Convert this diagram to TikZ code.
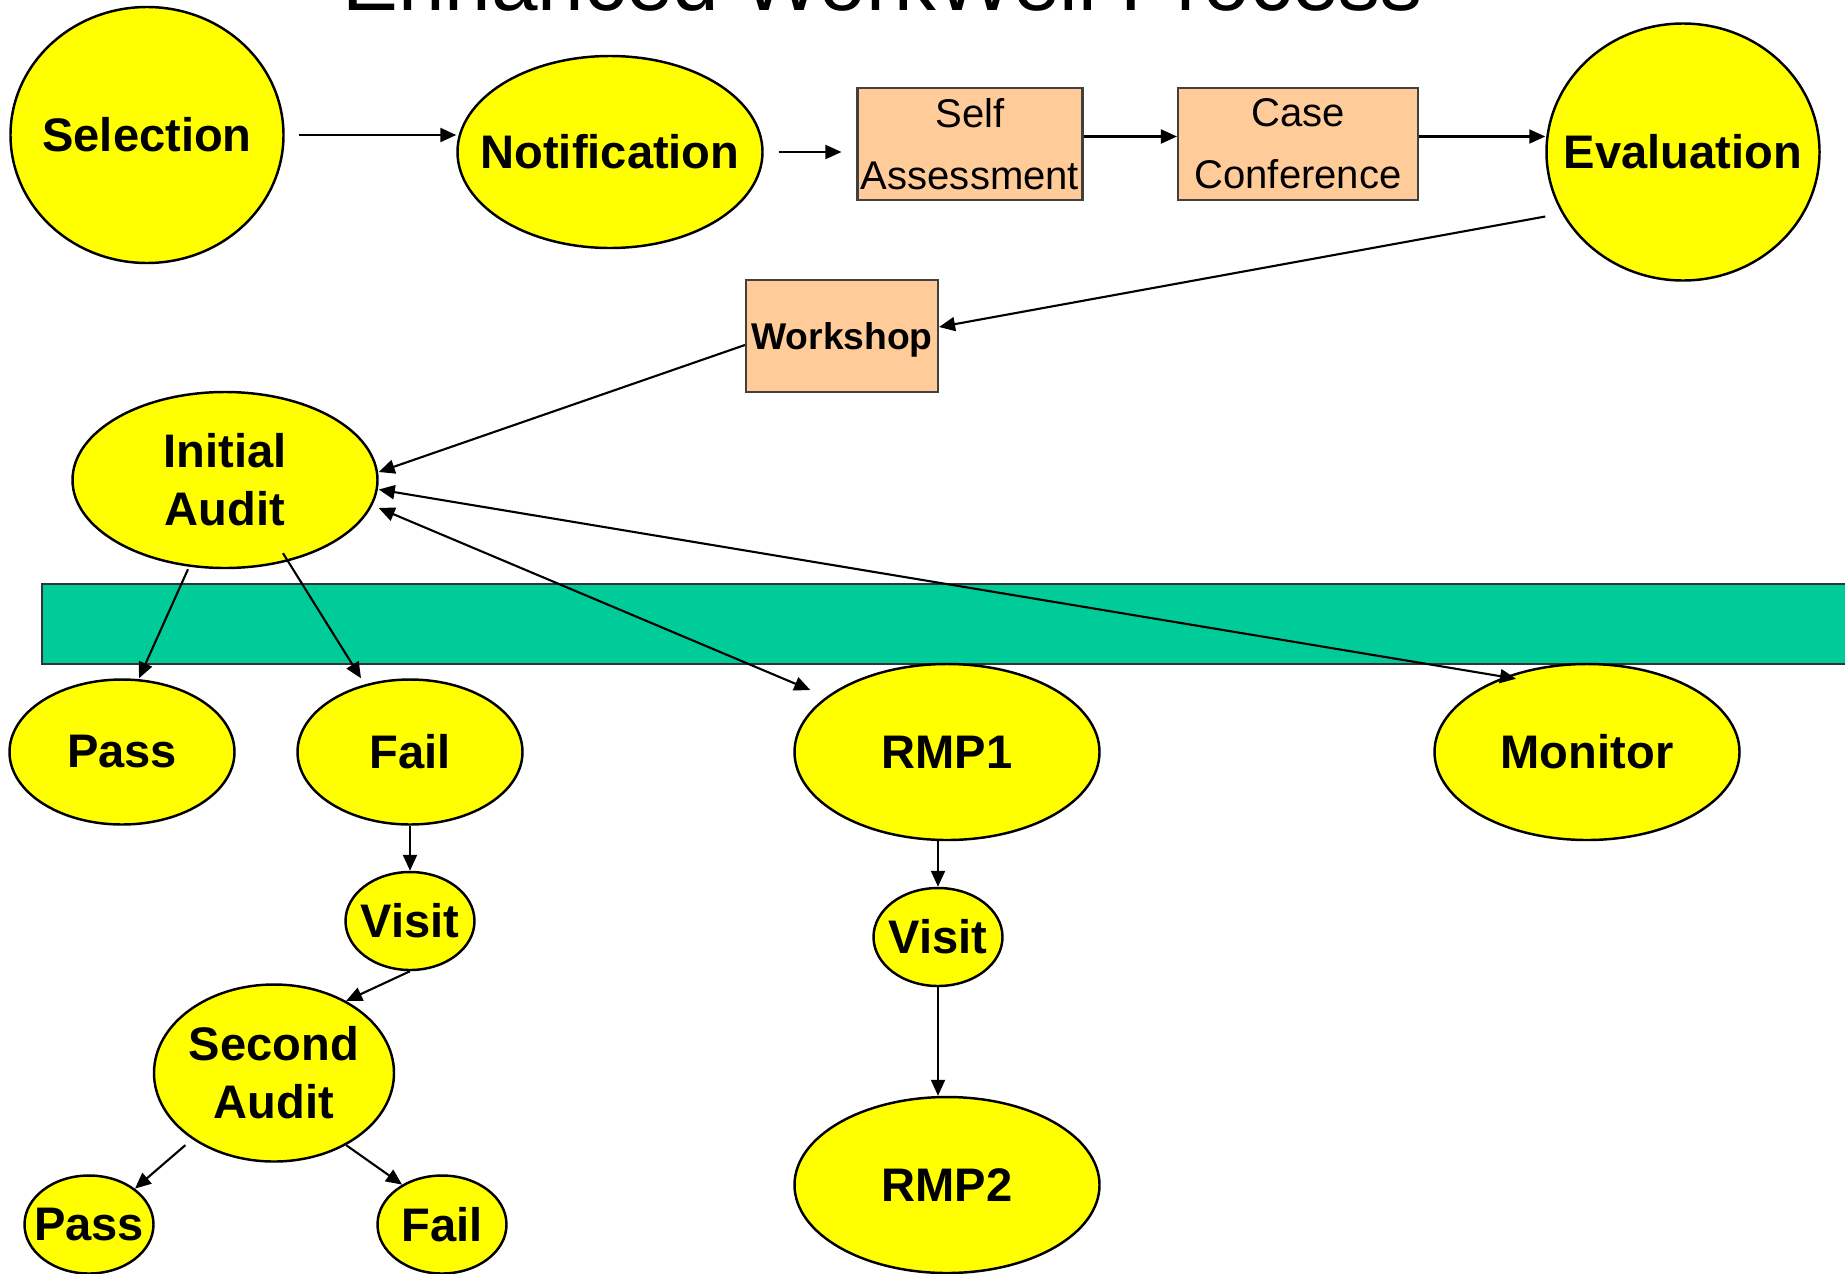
\documentclass[tikz,border=0pt]{standalone}
\usepackage{fontspec}
\setmainfont{Liberation Sans}
\usetikzlibrary{shapes.geometric, arrows.meta}

\definecolor{stagefill}{RGB}{255,255,0}
\definecolor{taskfill}{RGB}{255,204,153}
\definecolor{barfill}{RGB}{0,204,153}

\begin{document}
\begin{tikzpicture}[>={Triangle[length=0.16cm, width=0.14cm]},
    stage/.style={ellipse, draw, line width=0.7pt, fill=stagefill, inner sep=0pt, inner xsep=-2cm, align=center, font=\fontsize{13.4}{16.5}\selectfont\bfseries},
    task/.style={rectangle, draw=black!75, line width=0.6pt, fill=taskfill, inner sep=0pt, align=center, font=\fontsize{11.4}{17.7}\selectfont},
    flow/.style={line width=0.6pt}]
                \useasboundingbox (0,0) rectangle (18.45,-12.73);
                \node[anchor=base, font=\fontsize{23.8}{28}\selectfont] (title) at (8.825,-0.10) {Enhanced WorkWell Process};
                \fill[barfill, draw=black!80, line width=0.6pt] (0.424,-5.836) rectangle (18.7,-6.636);
                \node[stage, minimum width=2.73cm, minimum height=2.56cm] (sel) at (1.47,-1.35) {Selection};
                \node[stage, minimum width=3.05cm, minimum height=1.92cm] (notif) at (6.10,-1.52) {Notification};
                \node[task, minimum width=2.25cm, minimum height=1.12cm] (self) at (9.70,-1.44) {Self\\Assessment};
                \node[task, minimum width=2.40cm, minimum height=1.12cm] (case) at (12.98,-1.44) {Case\\Conference};
                \node[stage, minimum width=2.73cm, minimum height=2.57cm] (eval) at (16.83,-1.52) {Evaluation};
                \node[task, minimum width=1.92cm, minimum height=1.12cm, text depth=0pt, font=\fontsize{10.6}{13}\selectfont\bfseries] (work) at (8.42,-3.36) {Workshop};
                \node[stage, minimum width=3.05cm, minimum height=1.76cm] (ia) at (2.25,-4.80) {Initial\\Audit};
                \node[stage, minimum width=2.25cm, minimum height=1.45cm] (pass1) at (1.22,-7.52) {Pass};
                \node[stage, minimum width=2.25cm, minimum height=1.45cm] (fail1) at (4.10,-7.52) {Fail};
                \node[stage, minimum width=3.05cm, minimum height=1.76cm] (rmp1) at (9.47,-7.52) {RMP1};
                \node[stage, minimum width=3.05cm, minimum height=1.76cm] (mon) at (15.87,-7.52) {Monitor};
                \node[stage, minimum width=1.29cm, minimum height=0.98cm] (visit1) at (4.10,-9.21) {Visit};
                \node[stage, minimum width=2.40cm, minimum height=1.77cm] (second) at (2.74,-10.73) {Second\\Audit};
                \node[stage, minimum width=1.29cm, minimum height=0.98cm] (pass2) at (0.89,-12.245) {Pass};
                \node[stage, minimum width=1.29cm, minimum height=0.98cm] (fail2) at (4.42,-12.245) {Fail};
                \node[stage, minimum width=1.29cm, minimum height=0.98cm] (visit2) at (9.38,-9.37) {Visit};
                \node[stage, minimum width=3.05cm, minimum height=1.76cm] (rmp2) at (9.47,-11.85) {RMP2};
                \draw[->, flow, shorten <=0.14cm] (sel.east) -- (sel.east -| notif.west);
                \draw[->, flow, shorten <=0.15cm, shorten >=0.15cm] (notif.east) -- (notif.east -| self.west);
                \draw[->, flow] ([yshift=0.075cm]self.east) -- ([yshift=0.075cm]case.west);
                \draw[->, flow] ([yshift=0.075cm]case.east) -- ([yshift=0.075cm]case.east -| eval.west);
                \draw[->, flow] ([yshift=-0.645cm]eval.west) -- ([yshift=0.09cm]work.east);
                \draw[->, flow] ([yshift=-0.09cm]work.west) -- ([yshift=0.08cm]ia.east);
                \draw[<->, flow] ([yshift=-0.28cm]ia.east) -- ([xshift=0.17cm, yshift=0.62cm]rmp1.west);
                \draw[<->, flow] ([yshift=-0.095cm]ia.east) -- ([xshift=-0.71cm, yshift=-0.16cm]mon.north);
                \draw[->, flow] ([xshift=-0.37cm]ia.south) -- ([xshift=0.17cm]pass1.north);
                \draw[->, flow] ([xshift=0.58cm, yshift=0.16cm]ia.south) -- ([xshift=-0.49cm]fail1.north);
                \draw[->, flow] (fail1) -- (visit1);
                \draw[->, flow] (visit1.south) -- (second.45);
                \draw[->, flow, shorten <=0.09cm] (second.219) -- (pass2.38);
                \draw[->, flow] (second.315) -- (fail2.135);
                \draw[->, flow] (rmp1.south -| visit2) -- (visit2);
                \draw[->, flow] (visit2) -- (visit2 |- rmp2.north);
            \end{tikzpicture}
\end{document}
